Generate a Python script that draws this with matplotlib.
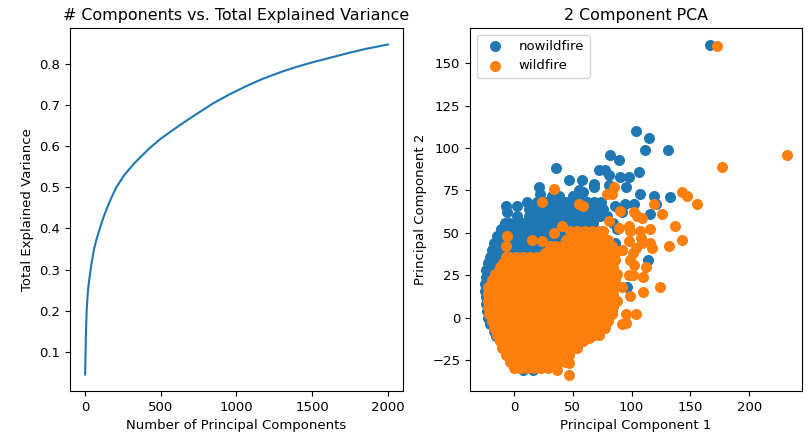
import matplotlib
matplotlib.use('Agg')
import matplotlib.pyplot as plt

plt.rcParams['font.size'] = 9.5
plt.rcParams['axes.titlesize'] = 11.4

# Explained variance curve
n_components = [1, 2, 3, 6, 11, 15, 20, 28, 37, 48, 60, 75, 98, 120, 146, 175, 207, 260, 330, 426, 500, 626, 720, 846,
                950, 1066, 1170, 1285, 1400, 1505, 1600, 1725, 1850, 2000]
total_variance = [0.045, 0.065, 0.085, 0.14, 0.20, 0.225, 0.25, 0.275, 0.30, 0.325, 0.35, 0.372, 0.40, 0.425, 0.45,
                  0.475, 0.50, 0.53, 0.56, 0.595, 0.618, 0.651, 0.674, 0.704, 0.725, 0.746, 0.763, 0.779, 0.793,
                  0.804, 0.813, 0.825, 0.836, 0.847]

# Blue outliers
nowildfire_x = [167, 104, 115, 111, 131, 82, 89, 36, 72, 77, 81, 90, 98, 106, 47, 58, 68, 68, 81, 95, 21, 22, 107, 119,
                133, 55, 59, 121, 102, 94, 86, 116, 92, 114, 96, -7, -6, 3, 3, 8, 16]
nowildfire_y = [161, 110, 106, 99, 99, 96, 93, 88, 87, 87, 84, 83, 83, 86, 81, 81, 79, 77, 78, 77, 77, 73, 73, 72,
                71, 75, 74, 67, 67, 67, 66, 61, 62, 34, 18, 66, 62, 66, 60, -31, -31]

# Blue cloud, one row per y value
nowildfire_rows = [
    (72, [32, 38, 50, 56]),
    (68, [11, 20, 26, 32, 38, 44, 50, 56, 62, 68, 74]),
    (64, [13, 16, 22, 28, 34, 40, 46, 52, 58, 64, 70, 76]),
    (60, [13, 19, 25, 31, 37, 43, 49, 55, 61, 67, 73, 79]),
    (56, [-8, -4, 1, 7, 13, 19, 25, 31, 37, 43, 49, 55, 61, 67, 84]),
    (52, [-11, -5, 1, 7, 13, 19, 25, 31, 37, 43, 49, 55, 88]),
    (48, [-14, -8, -2, 4, 10, 16, 22, 28, 34, 40, 46, 52]),
    (44, [-17, -11, -5, 1, 7, 13, 19, 25, 31, 37, 43, 49, 80, 86]),
    (40, [-19, -13, -7, -1, 5, 11, 17, 23, 29, 35, 88, 92]),
    (36, [-20, -16, -10, -4, 2, 8, 14]),
    (32, [-22, -17, -12]),
    (28, [-23.5, -19]),
    (24, [-24, -20]),
    (20, [-24.5, -20]),
    (16, [-24.5, -20]),
    (12, [-24, -20]),
    (8, [-24, -19]),
    (4, [-23, -18]),
    (0, [-22, -17]),
    (-4, [-20, -15]),
    (-8, [-17, -13]),
    (-11, [-15, -11]),
]

# Orange outliers and stragglers right of the cloud
wildfire_x = [173, 232, 177, 143, 147, 156, 119, 126, 34, 24, 55, 59, 85, 79, 83, 90, 102, 105, 109,
              81, 89, 98, 99, 107, 116, 137, 143, 132, 116, 108, 109, 117, 98, 104, 92, 101, 99, 102, 112, 110, 98, 101,
              92, 124, 99, 110, 104, 95, 95, 92, 47, 47, 37, -6, -7, 15, 24, 31, 34, 41]
wildfire_y = [160, 96, 89, 74, 72, 67, 67, 61, 76, 68, 67, 66, 77, 73, 73, 63, 62, 60, 59,
              57, 53, 54, 51, 51, 52, 54, 46, 42, 44, 47, 44, 41, 45, 41, 40, 38, 34, 31, 30, 24, 25, 25,
              18, 18, 13, 15, 2, 2, -3, -4, -33.5, -27, -31, 48, 42, 46, 45, 42, 50, 54]

# Orange cloud, one row per y value
wildfire_rows = [
    (51, [48, 54, 60, 66, 72, 76]),
    (46, [44, 50, 56, 62, 68, 74, 80]),
    (42, [35, 41, 47, 53, 59, 65, 71, 77, 83]),
    (38, [26, 32, 38, 44, 50, 56, 62, 68, 74, 80, 86]),
    (36, [-7, -4, 2, 8, 14, 20, 23, 29, 35, 41, 47, 53, 59, 65, 71, 77, 83]),
    (34, [-7, -1, 5, 11, 17, 23, 29, 35, 41, 47, 53, 59, 65, 71, 77, 83, 86]),
    (32, [-9, -4, 2, 8, 14, 20, 26, 32, 38, 44, 50, 56, 62, 68, 74, 80]),
    (30, [-12, -10, -4, 2, 8, 14, 20, 26, 32, 38, 44, 50, 56, 62, 68, 74, 80, 84]),
    (28, [-13, -7, -1, 5, 11, 17, 23, 29, 35, 41, 47, 53, 59, 65, 71, 77, 83]),
    (26, [-16, -13, -7, -1, 5, 11, 17, 23, 29, 35, 41, 47, 53, 59, 65, 71, 77, 83, 88]),
    (24, [-16, -10, -4, 2, 8, 14, 20, 26, 32, 38, 44, 50, 56, 62, 68, 74, 80]),
    (22, [-19, -16, -10, -4, 2, 8, 14, 20, 26, 32, 38, 44, 50, 56, 62, 68, 74, 80, 86]),
    (20, [-19, -13, -7, -1, 5, 11, 17, 23, 29, 35, 41, 47, 53, 59, 65, 71, 77, 83]),
    (18, [-22, -19, -13, -7, -1, 5, 11, 17, 23, 29, 35, 41, 47, 53, 59, 65, 71, 77, 83, 86]),
    (16, [-16, -10, -4, 2, 8, 14, 20, 26, 32, 38, 44, 50, 56, 62, 68, 74, 80]),
    (14, [-22, -16, -10, -4, 2, 8, 14, 20, 26, 32, 38, 44, 50, 56, 62, 68, 74, 80, 84]),
    (12, [-19, -13, -7, -1, 5, 11, 17, 23, 29, 35, 41, 47, 53, 59, 65, 71, 77, 83]),
    (10, [-22, -19, -13, -7, -1, 5, 11, 17, 23, 29, 35, 41, 47, 53, 59, 65, 71, 77, 83, 88]),
    (8, [-16, -10, -4, 2, 8, 14, 20, 26, 32, 38, 44, 50, 56, 62, 68, 74, 80]),
    (6, [-22, -16, -10, -4, 2, 8, 14, 20, 26, 32, 38, 44, 50, 56, 62, 68, 74, 80, 84]),
    (4, [-19, -13, -7, -1, 5, 11, 17, 23, 29, 35, 41, 47, 53, 59, 65, 71, 77, 83]),
    (2, [-21, -19, -13, -7, -1, 5, 11, 17, 23, 29, 35, 41, 47, 53, 59, 65, 71, 77, 83]),
    (0, [-16, -10, -4, 2, 8, 14, 20, 26, 32, 38, 44, 50, 56, 62, 68, 74, 80]),
    (-2, [-19, -16, -10, -4, 2, 8, 14, 20, 26, 32, 38, 44, 50, 56, 62, 68, 74, 80]),
    (-4, [-13, -7, -1, 5, 11, 17, 23, 29, 35, 41, 47, 53, 59, 65, 71, 77]),
    (-6, [-17, -13, -7, -1, 5, 11, 17, 23, 29, 35, 41, 47, 53, 59, 65, 71, 77]),
    (-8, [-10, -4, 2, 8, 14, 20, 26, 32, 38, 44, 50, 56, 62, 68]),
    (-10, [-14, -10, -4, 2, 8, 14, 20, 26, 32, 38, 44, 50, 56, 62, 68, 72]),
    (-12, [-7, -1, 5, 11, 17, 23, 29, 35, 41, 47, 53, 59, 64]),
    (-14, [-12, -7, -1, 5, 11, 17, 23, 29, 35, 41, 47, 53, 59]),
    (-16, [-4, 2, 8, 14, 20, 26, 32, 38, 44, 50, 54]),
    (-18, [-10, -4, 2, 8, 14, 20, 26, 32, 38, 44, 50, 54]),
    (-20, [-1, 5, 11, 17, 23, 29, 35, 41, 47]),
    (-22, [-7, -1, 5, 11, 17, 23, 29, 35, 41, 47]),
    (-24, [2, 8, 14, 20, 26, 32, 38, 44]),
    (-26, [-3, 2, 8, 14, 20, 26, 32, 38, 44]),
    (-29.5, [0, 5, 11, 17, 23, 29]),
]

for y, xs in nowildfire_rows:
    nowildfire_x = nowildfire_x + xs
    nowildfire_y = nowildfire_y + [y] * len(xs)
for y, xs in wildfire_rows:
    wildfire_x = wildfire_x + xs
    wildfire_y = wildfire_y + [y] * len(xs)

fig = plt.figure(figsize=(8.08, 4.33), dpi=100)

# Left panel
ax1 = fig.add_axes([70 / 808, 1 - 391 / 433, 333 / 808, 363 / 433])
ax1.plot(n_components, total_variance)
ax1.set_xlabel('Number of Principal Components')
ax1.set_ylabel('Total Explained Variance')
ax1.set_title('# Components vs. Total Explained Variance')

# Right panel
ax2 = fig.add_axes([470 / 808, 1 - 391 / 433, 332 / 808, 363 / 433])
ax2.scatter(nowildfire_x, nowildfire_y, s=48, label='nowildfire')
ax2.scatter(wildfire_x, wildfire_y, s=48, label='wildfire')
ax2.set_xlabel('Principal Component 1')
ax2.set_ylabel('Principal Component 2')
ax2.set_title('2 Component PCA')
ax2.legend(loc='upper left')

fig.savefig('out.png', dpi=100)
